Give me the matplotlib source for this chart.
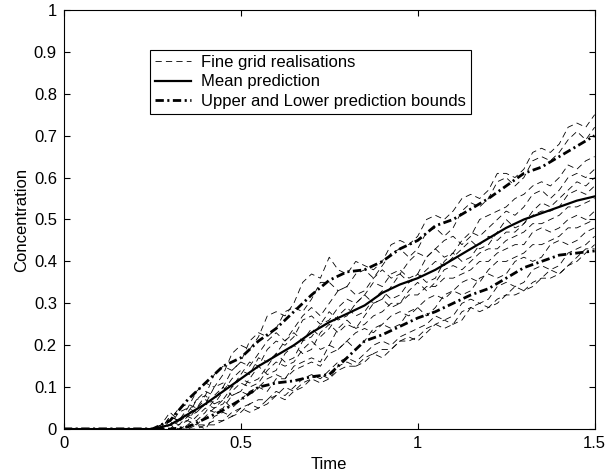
import numpy as np
import matplotlib.pyplot as plt

plt.rcParams['font.family'] = ['Liberation Sans', 'DejaVu Sans']
plt.rcParams['lines.scale_dashes'] = False

# coarse time grid for mean and bounds
t = [0.0, 0.25, 0.30, 0.35, 0.40, 0.45, 0.50, 0.55, 0.60, 0.65, 0.70, 0.75, 0.80, 0.85,
     0.90, 0.95, 1.00, 1.05, 1.10, 1.15, 1.20, 1.25, 1.30, 1.35, 1.40, 1.45, 1.50]
# fine time grid for the realisations: 0.25..1.5 by 0.025 (zero before 0.25)
t_fine = list(np.round(np.arange(0.25, 1.5001, 0.025), 3))

realisations = [
    [0, 0.00, 0.03, 0.02, 0.05, 0.09, 0.11, 0.10, 0.13, 0.18, 0.20, 0.19, 0.22, 0.27, 0.28, 0.27, 0.30, 0.35, 0.37, 0.36, 0.41, 0.38, 0.37, 0.40, 0.39, 0.38, 0.40, 0.44, 0.45, 0.44, 0.46, 0.50, 0.51, 0.50, 0.52, 0.55, 0.56, 0.55, 0.57, 0.61, 0.61, 0.60, 0.62, 0.66, 0.67, 0.66, 0.68, 0.72, 0.73, 0.72, 0.75],
    [0, 0.01, 0.02, 0.05, 0.06, 0.05, 0.08, 0.13, 0.15, 0.14, 0.16, 0.21, 0.23, 0.22, 0.24, 0.28, 0.29, 0.28, 0.31, 0.35, 0.35, 0.33, 0.34, 0.37, 0.38, 0.36, 0.39, 0.42, 0.43, 0.41, 0.43, 0.47, 0.48, 0.46, 0.48, 0.52, 0.54, 0.53, 0.55, 0.59, 0.60, 0.58, 0.60, 0.64, 0.65, 0.64, 0.66, 0.69, 0.71, 0.69, 0.72],
    [0, 0.01, 0.04, 0.02, 0.03, 0.07, 0.09, 0.08, 0.10, 0.14, 0.16, 0.15, 0.18, 0.21, 0.23, 0.21, 0.24, 0.27, 0.29, 0.27, 0.30, 0.33, 0.34, 0.32, 0.33, 0.36, 0.38, 0.36, 0.37, 0.40, 0.42, 0.41, 0.43, 0.45, 0.46, 0.44, 0.46, 0.50, 0.51, 0.52, 0.53, 0.55, 0.56, 0.58, 0.59, 0.58, 0.60, 0.63, 0.62, 0.64, 0.65],
    [0, 0.00, 0.01, 0.04, 0.05, 0.04, 0.06, 0.10, 0.11, 0.10, 0.13, 0.16, 0.15, 0.19, 0.21, 0.20, 0.22, 0.26, 0.27, 0.25, 0.26, 0.29, 0.31, 0.30, 0.32, 0.35, 0.34, 0.37, 0.38, 0.36, 0.37, 0.41, 0.43, 0.41, 0.42, 0.45, 0.47, 0.46, 0.48, 0.50, 0.52, 0.51, 0.53, 0.56, 0.57, 0.55, 0.57, 0.60, 0.61, 0.60, 0.62],
    [0, 0.00, 0.03, 0.02, 0.04, 0.07, 0.08, 0.06, 0.09, 0.12, 0.14, 0.13, 0.17, 0.16, 0.18, 0.21, 0.23, 0.21, 0.22, 0.25, 0.28, 0.26, 0.27, 0.30, 0.32, 0.30, 0.31, 0.34, 0.37, 0.35, 0.36, 0.38, 0.40, 0.39, 0.41, 0.43, 0.45, 0.43, 0.44, 0.47, 0.50, 0.48, 0.49, 0.52, 0.54, 0.53, 0.55, 0.57, 0.59, 0.58, 0.60],
    [0, 0.00, 0.02, 0.01, 0.02, 0.05, 0.07, 0.06, 0.07, 0.10, 0.12, 0.11, 0.12, 0.15, 0.18, 0.16, 0.17, 0.21, 0.24, 0.22, 0.24, 0.27, 0.29, 0.27, 0.28, 0.31, 0.33, 0.31, 0.32, 0.35, 0.37, 0.35, 0.36, 0.40, 0.42, 0.40, 0.41, 0.44, 0.46, 0.45, 0.47, 0.47, 0.49, 0.51, 0.52, 0.52, 0.53, 0.56, 0.57, 0.56, 0.58],
    [0, 0.00, 0.01, 0.02, 0.03, 0.02, 0.04, 0.07, 0.10, 0.08, 0.09, 0.12, 0.15, 0.13, 0.14, 0.18, 0.20, 0.18, 0.19, 0.23, 0.25, 0.23, 0.25, 0.24, 0.27, 0.30, 0.31, 0.29, 0.30, 0.33, 0.35, 0.33, 0.35, 0.38, 0.39, 0.38, 0.40, 0.42, 0.43, 0.43, 0.45, 0.46, 0.47, 0.49, 0.49, 0.50, 0.51, 0.53, 0.53, 0.54, 0.55],
    [0, 0.00, 0.00, 0.01, 0.03, 0.04, 0.06, 0.05, 0.06, 0.09, 0.11, 0.10, 0.11, 0.14, 0.16, 0.15, 0.16, 0.19, 0.21, 0.19, 0.20, 0.24, 0.26, 0.24, 0.25, 0.27, 0.28, 0.30, 0.30, 0.32, 0.32, 0.34, 0.34, 0.36, 0.36, 0.37, 0.38, 0.40, 0.40, 0.42, 0.43, 0.44, 0.44, 0.47, 0.48, 0.47, 0.48, 0.50, 0.51, 0.50, 0.52],
    [0, 0.00, 0.01, 0.00, 0.01, 0.03, 0.05, 0.04, 0.05, 0.08, 0.09, 0.08, 0.10, 0.12, 0.13, 0.12, 0.15, 0.16, 0.17, 0.16, 0.20, 0.19, 0.21, 0.23, 0.24, 0.23, 0.25, 0.27, 0.28, 0.27, 0.29, 0.31, 0.32, 0.31, 0.33, 0.35, 0.36, 0.35, 0.38, 0.40, 0.40, 0.41, 0.42, 0.44, 0.44, 0.45, 0.46, 0.48, 0.48, 0.49, 0.50],
    [0, 0.00, 0.00, 0.02, 0.02, 0.01, 0.03, 0.05, 0.07, 0.05, 0.07, 0.09, 0.10, 0.09, 0.12, 0.12, 0.14, 0.15, 0.16, 0.15, 0.18, 0.19, 0.21, 0.19, 0.21, 0.24, 0.25, 0.24, 0.25, 0.28, 0.29, 0.27, 0.29, 0.32, 0.33, 0.32, 0.33, 0.36, 0.37, 0.36, 0.37, 0.40, 0.41, 0.40, 0.41, 0.44, 0.45, 0.44, 0.45, 0.47, 0.48],
    [0, 0.00, 0.00, 0.00, 0.01, 0.01, 0.00, 0.03, 0.04, 0.03, 0.04, 0.06, 0.07, 0.07, 0.09, 0.08, 0.10, 0.12, 0.13, 0.12, 0.14, 0.16, 0.17, 0.16, 0.18, 0.20, 0.21, 0.20, 0.22, 0.23, 0.24, 0.25, 0.27, 0.26, 0.27, 0.30, 0.31, 0.30, 0.31, 0.34, 0.35, 0.34, 0.35, 0.38, 0.39, 0.38, 0.39, 0.42, 0.43, 0.44, 0.46],
    [0, 0.00, 0.00, 0.00, 0.00, 0.01, 0.01, 0.01, 0.02, 0.04, 0.05, 0.04, 0.05, 0.07, 0.08, 0.07, 0.09, 0.10, 0.12, 0.11, 0.12, 0.15, 0.16, 0.15, 0.16, 0.18, 0.19, 0.19, 0.21, 0.21, 0.22, 0.24, 0.25, 0.24, 0.25, 0.28, 0.29, 0.28, 0.29, 0.31, 0.32, 0.32, 0.33, 0.35, 0.36, 0.36, 0.37, 0.39, 0.40, 0.42, 0.44],
    [0, 0.00, 0.00, 0.00, 0.00, 0.00, 0.01, 0.02, 0.02, 0.03, 0.05, 0.06, 0.05, 0.06, 0.08, 0.10, 0.09, 0.11, 0.12, 0.13, 0.12, 0.14, 0.15, 0.15, 0.17, 0.18, 0.17, 0.19, 0.21, 0.22, 0.21, 0.23, 0.25, 0.26, 0.25, 0.26, 0.29, 0.30, 0.29, 0.30, 0.32, 0.34, 0.33, 0.34, 0.36, 0.38, 0.37, 0.39, 0.41, 0.43, 0.43],
]

mean_pred = [0, 0, 0.01, 0.035, 0.06, 0.09, 0.12, 0.15, 0.175, 0.20, 0.23, 0.255, 0.275, 0.295,
             0.325, 0.345, 0.36, 0.38, 0.405, 0.43, 0.455, 0.48, 0.50, 0.515, 0.53, 0.545, 0.555]
upper = [0, 0, 0.02, 0.07, 0.11, 0.15, 0.17, 0.21, 0.24, 0.28, 0.32, 0.355, 0.375, 0.38,
         0.40, 0.43, 0.45, 0.485, 0.50, 0.525, 0.55, 0.58, 0.61, 0.625, 0.65, 0.675, 0.70]
lower = [0, 0, 0.0, 0.005, 0.025, 0.045, 0.07, 0.10, 0.11, 0.115, 0.125, 0.13, 0.17, 0.21,
         0.225, 0.245, 0.265, 0.28, 0.30, 0.32, 0.335, 0.36, 0.385, 0.40, 0.415, 0.42, 0.425]

fig = plt.figure(figsize=(6.08, 4.71), dpi=100)
ax = fig.add_axes([0.105, 0.089, 0.873, 0.890])

for i, r in enumerate(realisations):
    ax.plot([0.0] + t_fine, [0] + r, color='k', linestyle=(0, (4.5, 3)), linewidth=0.6,
            label='Fine grid realisations' if i == 0 else None)
ax.plot(t, mean_pred, color='k', linewidth=1.6, label='Mean prediction')
ax.plot(t, upper, color='k', linestyle=(0, (6, 2.5, 1.5, 2.5)), linewidth=2.0,
        label='Upper and Lower prediction bounds')
ax.plot(t, lower, color='k', linestyle=(0, (6, 2.5, 1.5, 2.5)), linewidth=2.0)

ax.set_xlim(0, 1.5)
ax.set_ylim(0, 1)
ax.set_xticks([0, 0.5, 1, 1.5])
ax.set_xticklabels(['0', '0.5', '1', '1.5'])
ax.set_yticks(np.arange(0, 1.01, 0.1))
ax.set_yticklabels(['0', '0.1', '0.2', '0.3', '0.4', '0.5', '0.6', '0.7', '0.8', '0.9', '1'])
ax.tick_params(direction='in', top=True, right=True, labelsize=12, length=4, pad=5)
ax.set_xlabel('Time', fontsize=12, labelpad=4)
ax.set_ylabel('Concentration', fontsize=12, labelpad=3)

leg = ax.legend(loc='upper left', bbox_to_anchor=(0.162, 0.905), fontsize=12,
                frameon=True, fancybox=False, edgecolor='k', framealpha=1,
                handlelength=2.2, borderpad=0.3, labelspacing=0.28, handletextpad=0.6,
                borderaxespad=0)
leg.get_frame().set_linewidth(0.8)

fig.savefig('out.png', dpi=100)
